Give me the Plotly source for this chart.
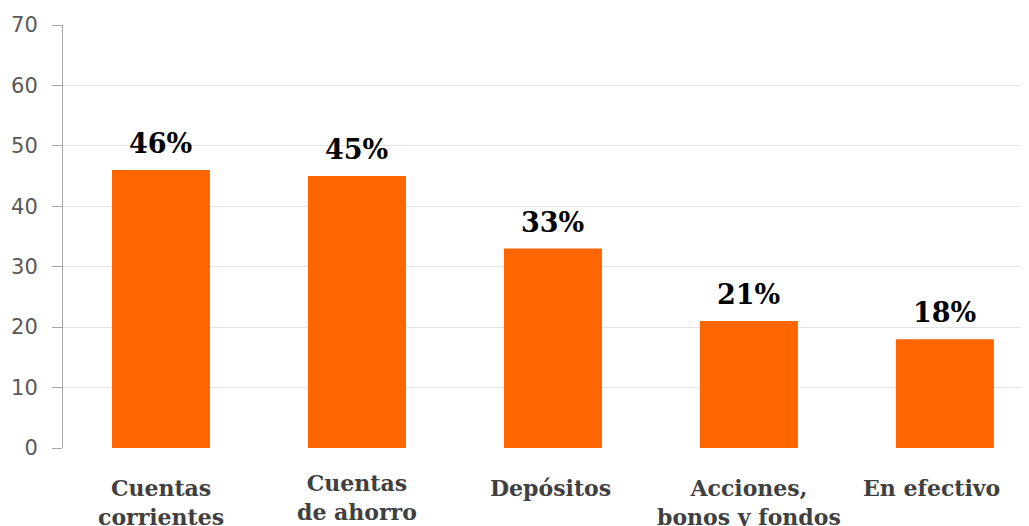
import plotly.graph_objects as go

categories = ["Cuentas<br>corrientes", "Cuentas<br>de ahorro", "Depósitos",
              "Acciones,<br>bonos y fondos", "En efectivo"]
values = [46, 45, 33, 21, 18]
y_ticks = [0, 10, 20, 30, 40, 50, 60, 70]

label_yshift = [0, 5, 0, 0, 0]
label_xshift = [0, 0, -2, 0, -13]

xs = list(range(len(categories)))
fig = go.Figure()
fig.add_trace(go.Bar(x=xs, y=values, width=0.5, marker=dict(color="#FF6600", line=dict(width=0)),
                     hoverinfo="skip"))

annotations = []
for i, v in enumerate(values):
    annotations.append(dict(x=i, y=v, xref="x", yref="y", text=f"<b>{v}%</b>", showarrow=False,
                            yanchor="bottom", yshift=9,
                            font=dict(family="DejaVu Serif", size=27, color="#000000")))
for i, c in enumerate(categories):
    annotations.append(dict(x=i, y=0, xref="x", yref="paper", text=f"<b>{c}</b>", showarrow=False,
                            yanchor="top", yshift=-25 + label_yshift[i], xshift=label_xshift[i],
                            align="center",
                            font=dict(family="DejaVu Serif", size=22, color="#404040")))

fig.update_layout(
    width=1029, height=526,
    margin=dict(l=55, r=0, t=17, b=86),
    paper_bgcolor="white", plot_bgcolor="white",
    showlegend=False,
    bargap=0.5,
    annotations=annotations,
    xaxis=dict(range=[-0.5, 4.47], showticklabels=False, showgrid=False, zeroline=False,
               showline=False, ticks=""),
    yaxis=dict(range=[0, 70], tickvals=y_ticks, showgrid=True, gridcolor="#E3E3E3", gridwidth=1,
               zeroline=False, showline=True, linecolor="#A6A6A6", linewidth=1,
               ticks="outside", ticklen=10, tickcolor="#A6A6A6", ticklabelstandoff=10,
               tickfont=dict(family="DejaVu Sans", size=21, color="#595959")),
)
fig.write_html("out.html")
